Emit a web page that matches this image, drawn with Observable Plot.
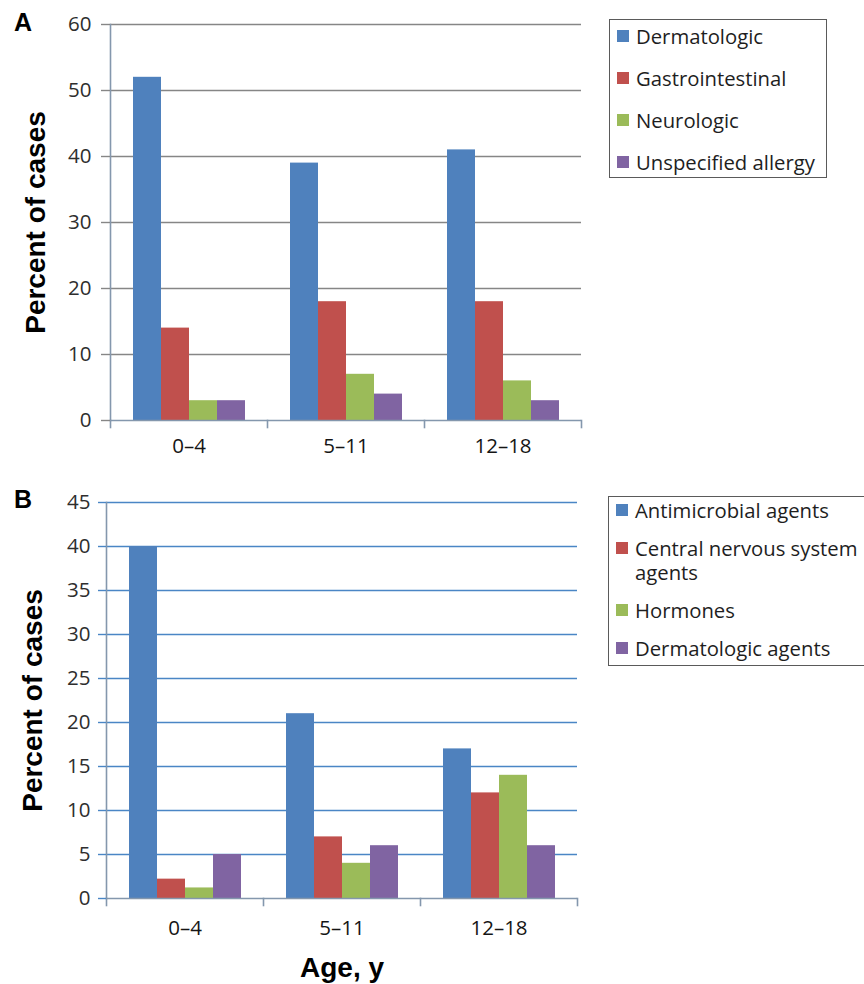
<!DOCTYPE html>
<html>
<head>
<meta charset="utf-8">
<script src="https://cdn.jsdelivr.net/npm/d3@7"></script>
<script src="https://cdn.jsdelivr.net/npm/@observablehq/plot@0.6"></script>
<style>
  html, body { margin: 0; padding: 0; background: #fff; }
  body { width: 864px; height: 984px; overflow: hidden; font-family: "Open Sans", sans-serif; }
  #page { position: relative; width: 864px; height: 984px; overflow: hidden; }
  #page svg { position: absolute; left: 0; }
  .letter { position: absolute; font: bold 25px/25px "Liberation Sans", Arial, sans-serif; color: #000; }
  .legend { position: absolute; box-sizing: border-box; border: 1.5px solid #5a5a5a; background: #fff;
            font-family: "Open Sans", sans-serif; font-size: 20.3px; line-height: 24px; color: #1e1e1e;
            display: flex; flex-direction: column; }
  .legend .row { display: flex; align-items: flex-start; }
  .legend .sw { width: 12px; height: 12px; margin: 6px 7.5px 0 6.5px; flex: none; }
  #legA { left: 609px; top: 19px; width: 218px; height: 159px; padding: 3.5px 0; justify-content: space-between; }
  #legB { left: 608px; top: 496px; width: 300px; height: 170px; padding-top: 1px; gap: 14px; }
  #legB .txt { max-width: 230px; }
</style>
</head>
<body>
<div id="page"></div>
<script>
// ---- data ----
const ages = ["0–4", "5–11", "12–18"];

const seriesA = ["Dermatologic", "Gastrointestinal", "Neurologic", "Unspecified allergy"];
const dermatologicA = [52, 39, 41];
const gastrointestinalA = [14, 18, 18];
const neurologicA = [3, 7, 6];
const allergyA = [3, 4, 3];

const seriesB = ["Antimicrobial agents", "Central nervous system agents", "Hormones", "Dermatologic agents"];
const antimicrobialB = [40, 21, 17];
const cnsB = [2.2, 7, 12];
const hormonesB = [1.2, 4, 14];
const dermatologicB = [5, 6, 6];

const yTicksA = [0, 10, 20, 30, 40, 50, 60];
const yTicksB = [0, 5, 10, 15, 20, 25, 30, 35, 40, 45];
const palette = ["#4F81BD", "#C0504D", "#9BBB59", "#8064A2"];
const yTitle = "Percent of cases";
const xTitle = "Age, y";

// ---- tables ----
function table(series, values) {
  return ages.flatMap((age, i) => series.map((s, j) => ({age, series: s, value: values[j][i]})));
}
const rowsA = table(seriesA, [dermatologicA, gastrointestinalA, neurologicA, allergyA]);
const rowsB = table(seriesB, [antimicrobialB, cnsB, hormonesB, dermatologicB]);

const axisColor = "#8497ad";

function panel(o) {
  const frameH = o.height - o.marginTop - o.marginBottom;
  return Plot.plot({
    width: 864,
    height: o.height,
    marginLeft: o.marginLeft,
    marginRight: o.marginRight,
    marginTop: o.marginTop,
    marginBottom: o.marginBottom,
    style: {fontFamily: '"Open Sans", sans-serif', background: "transparent", overflow: "visible"},
    fx: {domain: ages, padding: 0},
    x: {domain: o.series, paddingInner: 0, paddingOuter: 0.75, axis: null},
    y: {domain: [0, d3.max(o.ticks)], axis: null},
    color: {domain: o.series, range: palette},
    marks: [
      Plot.gridY(o.ticks.slice(1), {stroke: o.gridColor, strokeOpacity: 1, strokeWidth: 1.4}),
      Plot.barY(o.rows, {fx: "age", x: "series", y: "value", fill: "series"}),
      Plot.ruleY([0], {stroke: axisColor, strokeWidth: 1.6}),
      Plot.frame({anchor: "left", fx: ages[0], stroke: axisColor, strokeWidth: 1.6}),
      Plot.frame({anchor: "left", insetTop: frameH, insetBottom: -7, stroke: axisColor, strokeWidth: 1.6}),
      Plot.frame({anchor: "right", fx: ages[ages.length - 1], insetTop: frameH, insetBottom: -7, stroke: axisColor, strokeWidth: 1.6}),
      Plot.axisY(o.ticks, {tickSize: o.tickSize, tickPadding: o.tickPadding, fontSize: 20.5, fill: "#2e2e2e",
        stroke: o.gridColor, strokeWidth: 1.4, label: null}),
      Plot.axisY({ticks: [], tickSize: 0, label: yTitle, labelAnchor: "center", labelArrow: "none",
        labelOffset: o.yLabelOffset, fontSize: 28, fontWeight: "bold",
        fontFamily: '"Liberation Sans", Arial, sans-serif', fill: "#000"}),
      Plot.axisFx({anchor: "bottom", tickSize: 0, tickPadding: o.fxPadding, fontSize: 20.5, fill: "#151515", label: null}),
      o.xLabel ? Plot.axisFx({anchor: "bottom", ticks: [], tickSize: 0, label: o.xLabel, labelAnchor: "center", labelArrow: "none",
        labelOffset: o.xLabelOffset, fontSize: 28, fontWeight: "bold",
        fontFamily: '"Liberation Sans", Arial, sans-serif', fill: "#000"}) : null
    ]
  });
}

const page = document.getElementById("page");

const svgA = panel({
  rows: rowsA, series: seriesA, ticks: yTicksA, gridColor: "#868686",
  height: 480, marginLeft: 110, marginRight: 283, marginTop: 24, marginBottom: 60,
  tickSize: 9, tickPadding: 10, fxPadding: 18, yLabelOffset: 85
});
svgA.style.top = "0px";
page.appendChild(svgA);

const svgB = panel({
  rows: rowsB, series: seriesB, ticks: yTicksB, gridColor: "#4a86c5",
  height: 504, marginLeft: 105, marginRight: 286, marginTop: 22, marginBottom: 86,
  tickSize: 8, tickPadding: 8, fxPadding: 22, yLabelOffset: 84,
  xLabel: xTitle, xLabelOffset: 78
});
svgB.style.top = "480px";
page.appendChild(svgB);

// panel letters
for (const [t, top] of [["A", 10], ["B", 487]]) {
  const d = document.createElement("div");
  d.className = "letter";
  d.style.left = "14px";
  d.style.top = top + "px";
  d.textContent = t;
  page.appendChild(d);
}

// legends
function legend(id, series) {
  const box = document.createElement("div");
  box.className = "legend";
  box.id = id;
  series.forEach((s, i) => {
    const row = document.createElement("div");
    row.className = "row";
    const sw = document.createElement("span");
    sw.className = "sw";
    sw.style.background = palette[i];
    const txt = document.createElement("span");
    txt.className = "txt";
    txt.textContent = s;
    row.appendChild(sw);
    row.appendChild(txt);
    box.appendChild(row);
  });
  page.appendChild(box);
}
legend("legA", seriesA);
legend("legB", seriesB);
</script>
</body>
</html>
